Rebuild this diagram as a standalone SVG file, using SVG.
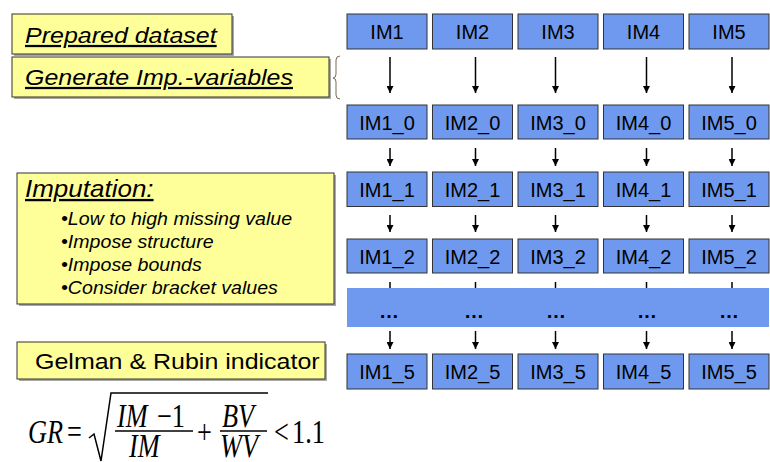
<svg xmlns="http://www.w3.org/2000/svg" width="770" height="462" viewBox="0 0 770 462">
<style>
.bg{fill:#ffffff}
.yb{fill:#ffff99;stroke:#333333;stroke-width:1}
.sh{fill:#a8a8a8}
.bb{fill:#6f99ee;stroke:#333333;stroke-width:1}
.band{fill:#6f99ee}
.lbl{font-family:"Liberation Sans",Arial,sans-serif;font-size:20px;fill:#000;text-anchor:middle}
.yt{font-family:"Liberation Sans",Arial,sans-serif;font-size:25px;fill:#000;font-style:italic;text-decoration:underline}
.bt{font-family:"Liberation Sans",Arial,sans-serif;font-size:19.6px;fill:#000;font-style:italic}
.gt{font-family:"Liberation Sans",Arial,sans-serif;font-size:25px;fill:#000}
.dots{font-family:"Liberation Sans",Arial,sans-serif;font-size:20px;font-weight:bold;fill:#000;text-anchor:middle}
.mi{font-family:"Liberation Serif","Times New Roman",serif;font-size:26.3px;font-style:italic;fill:#000}
.mr{font-family:"Liberation Serif","Times New Roman",serif;font-size:26.3px;fill:#000}
.ar{stroke:#000;stroke-width:1.5;fill:none}
.br{stroke:#7a6a5a;stroke-width:1;fill:none}
.fb{stroke:#000;stroke-width:1.5;fill:none}
</style>
<defs>
<marker id="ah" viewBox="0 0 10 10" refX="10" refY="5" markerWidth="7" markerHeight="7" markerUnits="userSpaceOnUse" orient="auto">
<path d="M0,0 L10,5 L0,10 z" fill="#000"/>
</marker>
</defs>
<rect class="bg" x="0" y="0" width="770" height="462"/>

<g id="prepared-dataset">
<rect class="sh" x="14" y="16" width="220" height="40"/>
<rect class="yb" x="12" y="14" width="220" height="40"/>
<text class="yt" transform="translate(25,43) scale(1,0.9)">Prepared dataset</text>
</g>
<g id="generate-imp-variables">
<rect class="sh" x="14" y="59" width="317" height="40"/>
<rect class="yb" x="12" y="57" width="317" height="40"/>
<text class="yt" transform="translate(25,85) scale(1,0.9)">Generate Imp.-variables</text>
</g>
<g id="imputation">
<rect class="sh" x="19" y="175" width="317" height="131"/>
<rect class="yb" x="17" y="173" width="317" height="131"/>
<text class="yt" style="font-size:26px" transform="translate(25,197) scale(1,0.9)">Imputation:</text>
<text class="bt" transform="translate(61,225) scale(1,0.9)">•Low to high missing value</text>
<text class="bt" transform="translate(61,248) scale(1,0.9)">•Impose structure</text>
<text class="bt" transform="translate(61,271) scale(1,0.9)">•Impose bounds</text>
<text class="bt" transform="translate(61,294) scale(1,0.9)">•Consider bracket values</text>
</g>
<g id="gelman-rubin">
<rect class="sh" x="19" y="344" width="308" height="37"/>
<rect class="yb" x="17" y="342" width="308" height="37"/>
<text class="gt" transform="translate(35,368.5) scale(1,0.9)">Gelman &amp; Rubin indicator</text>
</g>

<g id="formula">
<text class="mi" transform="translate(28,443) scale(1,1.25)">GR</text>
<text class="mr" transform="translate(67,443) scale(1,1.25)">=</text>
<path class="fb" d="M89,438 L94,434 L101,461 L111,393 L268,393"/>
<text class="mi" transform="translate(117,427) scale(1,1.25)">IM</text>
<text class="mr" transform="translate(157,427) scale(1,1.25)">−1</text>
<line class="fb" x1="115" y1="431" x2="193" y2="431"/>
<text class="mi" transform="translate(129,457) scale(1,1.25)">IM</text>
<text class="mr" transform="translate(197,443) scale(1,1.25)">+</text>
<text class="mi" transform="translate(222,427) scale(1,1.25)">BV</text>
<line class="fb" x1="220" y1="431" x2="267" y2="431"/>
<text class="mi" transform="translate(220,457) scale(1,1.25)">WV</text>
<text class="mr" transform="translate(274,443) scale(1,1.25)">&lt;</text>
<text class="mr" transform="translate(292,443) scale(1,1.25)">1.1</text>
</g>

<g id="connectors">
<path class="br" d="M340,56 Q336,56 336,60 L336,74 Q336,78 333,78 Q336,78 336,82 L336,95 Q336,99 340,99"/>
<line class="ar" x1="390" y1="57" x2="390" y2="93" marker-end="url(#ah)"/>
<line class="ar" x1="475.5" y1="57" x2="475.5" y2="93" marker-end="url(#ah)"/>
<line class="ar" x1="555.5" y1="57" x2="555.5" y2="93" marker-end="url(#ah)"/>
<line class="ar" x1="646.5" y1="57" x2="646.5" y2="93" marker-end="url(#ah)"/>
<line class="ar" x1="732" y1="57" x2="732" y2="93" marker-end="url(#ah)"/>
<line class="ar" x1="390" y1="148" x2="390" y2="166" marker-end="url(#ah)"/>
<line class="ar" x1="475.5" y1="148" x2="475.5" y2="166" marker-end="url(#ah)"/>
<line class="ar" x1="555.5" y1="148" x2="555.5" y2="166" marker-end="url(#ah)"/>
<line class="ar" x1="646.5" y1="148" x2="646.5" y2="166" marker-end="url(#ah)"/>
<line class="ar" x1="732" y1="148" x2="732" y2="166" marker-end="url(#ah)"/>
<line class="ar" x1="390" y1="215" x2="390" y2="232" marker-end="url(#ah)"/>
<line class="ar" x1="475.5" y1="215" x2="475.5" y2="232" marker-end="url(#ah)"/>
<line class="ar" x1="555.5" y1="215" x2="555.5" y2="232" marker-end="url(#ah)"/>
<line class="ar" x1="646.5" y1="215" x2="646.5" y2="232" marker-end="url(#ah)"/>
<line class="ar" x1="732" y1="215" x2="732" y2="232" marker-end="url(#ah)"/>
<line class="ar" x1="390" y1="282" x2="390" y2="290"/>
<line class="ar" x1="475.5" y1="282" x2="475.5" y2="290"/>
<line class="ar" x1="555.5" y1="282" x2="555.5" y2="290"/>
<line class="ar" x1="646.5" y1="282" x2="646.5" y2="290"/>
<line class="ar" x1="732" y1="282" x2="732" y2="290"/>
<line class="ar" x1="390" y1="331" x2="390" y2="349" marker-end="url(#ah)"/>
<line class="ar" x1="475.5" y1="331" x2="475.5" y2="349" marker-end="url(#ah)"/>
<line class="ar" x1="555.5" y1="331" x2="555.5" y2="349" marker-end="url(#ah)"/>
<line class="ar" x1="646.5" y1="331" x2="646.5" y2="349" marker-end="url(#ah)"/>
<line class="ar" x1="732" y1="331" x2="732" y2="349" marker-end="url(#ah)"/>
</g>

<g id="row-im">
<g id="IM1"><rect class="bb" x="347" y="14" width="80" height="35"/><text class="lbl" x="387" y="39">IM1</text></g>
<g id="IM2"><rect class="bb" x="432.5" y="14" width="80" height="35"/><text class="lbl" x="472.5" y="39">IM2</text></g>
<g id="IM3"><rect class="bb" x="518" y="14" width="80" height="35"/><text class="lbl" x="558" y="39">IM3</text></g>
<g id="IM4"><rect class="bb" x="603.5" y="14" width="80" height="35"/><text class="lbl" x="643.5" y="39">IM4</text></g>
<g id="IM5"><rect class="bb" x="689" y="14" width="80" height="35"/><text class="lbl" x="729" y="39">IM5</text></g>
</g>
<g id="row-0">
<g id="IM1_0"><rect class="bb" x="347" y="105" width="80" height="34"/><text class="lbl" x="387" y="129.5">IM1_0</text></g>
<g id="IM2_0"><rect class="bb" x="432.5" y="105" width="80" height="34"/><text class="lbl" x="472.5" y="129.5">IM2_0</text></g>
<g id="IM3_0"><rect class="bb" x="518" y="105" width="80" height="34"/><text class="lbl" x="558" y="129.5">IM3_0</text></g>
<g id="IM4_0"><rect class="bb" x="603.5" y="105" width="80" height="34"/><text class="lbl" x="643.5" y="129.5">IM4_0</text></g>
<g id="IM5_0"><rect class="bb" x="689" y="105" width="80" height="34"/><text class="lbl" x="729" y="129.5">IM5_0</text></g>
</g>
<g id="row-1">
<g id="IM1_1"><rect class="bb" x="347" y="172" width="80" height="34.5"/><text class="lbl" x="387" y="196.5">IM1_1</text></g>
<g id="IM2_1"><rect class="bb" x="432.5" y="172" width="80" height="34.5"/><text class="lbl" x="472.5" y="196.5">IM2_1</text></g>
<g id="IM3_1"><rect class="bb" x="518" y="172" width="80" height="34.5"/><text class="lbl" x="558" y="196.5">IM3_1</text></g>
<g id="IM4_1"><rect class="bb" x="603.5" y="172" width="80" height="34.5"/><text class="lbl" x="643.5" y="196.5">IM4_1</text></g>
<g id="IM5_1"><rect class="bb" x="689" y="172" width="80" height="34.5"/><text class="lbl" x="729" y="196.5">IM5_1</text></g>
</g>
<g id="row-2">
<g id="IM1_2"><rect class="bb" x="347" y="239" width="80" height="34"/><text class="lbl" x="387" y="263.5">IM1_2</text></g>
<g id="IM2_2"><rect class="bb" x="432.5" y="239" width="80" height="34"/><text class="lbl" x="472.5" y="263.5">IM2_2</text></g>
<g id="IM3_2"><rect class="bb" x="518" y="239" width="80" height="34"/><text class="lbl" x="558" y="263.5">IM3_2</text></g>
<g id="IM4_2"><rect class="bb" x="603.5" y="239" width="80" height="34"/><text class="lbl" x="643.5" y="263.5">IM4_2</text></g>
<g id="IM5_2"><rect class="bb" x="689" y="239" width="80" height="34"/><text class="lbl" x="729" y="263.5">IM5_2</text></g>
</g>
<g id="ellipsis-band">
<rect class="band" x="347" y="288" width="422" height="39"/>
<text class="dots" x="389" y="318">…</text>
<text class="dots" x="474" y="318">…</text>
<text class="dots" x="556" y="318">…</text>
<text class="dots" x="647" y="318">…</text>
<text class="dots" x="729" y="318">…</text>
</g>
<g id="row-5">
<g id="IM1_5"><rect class="bb" x="347" y="354" width="80" height="35"/><text class="lbl" x="387" y="379">IM1_5</text></g>
<g id="IM2_5"><rect class="bb" x="432.5" y="354" width="80" height="35"/><text class="lbl" x="472.5" y="379">IM2_5</text></g>
<g id="IM3_5"><rect class="bb" x="518" y="354" width="80" height="35"/><text class="lbl" x="558" y="379">IM3_5</text></g>
<g id="IM4_5"><rect class="bb" x="603.5" y="354" width="80" height="35"/><text class="lbl" x="643.5" y="379">IM4_5</text></g>
<g id="IM5_5"><rect class="bb" x="689" y="354" width="80" height="35"/><text class="lbl" x="729" y="379">IM5_5</text></g>
</g>
</svg>
